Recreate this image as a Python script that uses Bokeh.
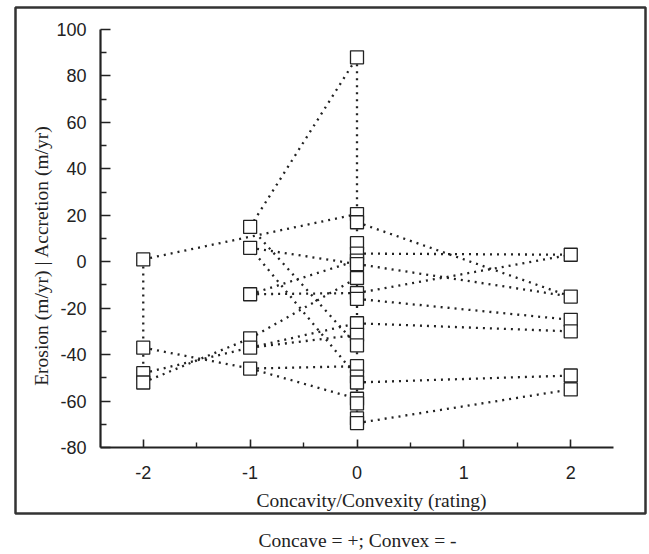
import math
from bokeh.plotting import figure
from bokeh.layouts import column
from bokeh.models import FixedTicker, Label, Range1d
from bokeh.embed import file_html
from bokeh.resources import INLINE

# ---- data: concavity/convexity rating vs. erosion(-) / accretion(+) rate (m/yr)
rating = [-2, -2, -2, -2,
          -1, -1, -1, -1, -1, -1,
          0, 0, 0, 0, 0, 0, 0, 0, 0, 0,
          0, 0, 0, 0, 0, 0, 0, 0, 0, 0,
          2, 2, 2, 2, 2, 2]
rate = [1, -37, -48, -52,
        15, 6, -14, -33, -37, -46,
        88, 20.5, 17, 8, 3.5, 0.5, -1, -7, -13.5, -16,
        -26.5, -31.5, -36, -45, -49.5, -52, -59, -61, -67.5, -69.5,
        3, -15, -25, -30, -49, -55]

# dotted connections between points (indices into the lists above)
link_from = [0, 1, 2,
             10, 11, 12, 13, 14, 15, 16, 17, 18, 19, 20, 21, 22, 23, 24, 25, 26, 27, 28,
             0, 1, 2, 3, 4, 4, 5, 5, 6, 6, 7, 8, 8, 9, 9,
             12, 14, 16, 18, 19, 20, 25, 29]
link_to = [1, 2, 3,
           11, 12, 13, 14, 15, 16, 17, 18, 19, 20, 21, 22, 23, 24, 25, 26, 27, 28, 29,
           11, 9, 8, 7, 10, 22, 16, 24, 18, 15, 17, 20, 21, 23, 26,
           31, 30, 31, 30, 32, 33, 34, 35]

x_lim = (-2.4, 2.4)
y_lim = (-80, 100)
x_ticks = [-2, -1, 0, 1, 2]
x_minor = [-1.5, -0.5, 0.5, 1.5]
y_ticks = [-80, -60, -40, -20, 0, 20, 40, 60, 80, 100]
y_minor = [-70, -50, -30, -10, 10, 30, 50, 70, 90]

x_title = "Concavity/Convexity (rating)"
y_title = "Erosion (m/yr) | Accretion (m/yr)"
caption = "Concave = +; Convex = -"

INK = "#222222"
SANS = "Liberation Sans"
SERIF = "Liberation Serif"

# ---- layout in pixels: outer box (= plot frame) and the axes drawn inside it
BOX_L, BOX_R, BOX_T, BOX_B = 15, 645, 7, 513
AX_L, AX_R, AX_T, AX_B = 100, 613, 29, 447
W, H = 648, 515
CAP_H = 37

ppx = (AX_R - AX_L) / (x_lim[1] - x_lim[0])
ppy = (AX_B - AX_T) / (y_lim[1] - y_lim[0])
x_range = Range1d(x_lim[0] - (AX_L - BOX_L) / ppx, x_lim[1] + (BOX_R - AX_R) / ppx)
y_range = Range1d(y_lim[0] - (BOX_B - AX_B) / ppy, y_lim[1] + (AX_T - BOX_T) / ppy)

p = figure(width=W, height=H, x_range=x_range, y_range=y_range,
           output_backend="svg", toolbar_location=None,
           min_border_left=BOX_L, min_border_right=W - BOX_R,
           min_border_top=BOX_T, min_border_bottom=H - BOX_B)
p.xgrid.visible = False
p.ygrid.visible = False
p.outline_line_color = "#333333"
p.outline_line_width = 2.5
p.background_fill_color = "white"
p.border_fill_color = "white"

seg_x0 = [rating[i] for i in link_from]
seg_y0 = [rate[i] for i in link_from]
seg_x1 = [rating[i] for i in link_to]
seg_y1 = [rate[i] for i in link_to]
p.segment(seg_x0, seg_y0, seg_x1, seg_y1, line_color=INK, line_width=2.3,
          line_dash="2 5")

p.scatter(rating, rate, marker="square", size=13, fill_color="white",
          line_color=INK, line_width=1.3)

p.xaxis.fixed_location = y_lim[0]
p.xaxis.bounds = x_lim
p.yaxis.fixed_location = x_lim[0]
p.yaxis.bounds = y_lim

for ax, ticks, minor in ((p.xaxis[0], x_ticks, x_minor), (p.yaxis[0], y_ticks, y_minor)):
    ax.ticker = FixedTicker(ticks=ticks, minor_ticks=minor)
    ax.major_label_overrides = {t: str(t) for t in ticks}
    ax.axis_line_color = INK
    ax.axis_line_width = 2.2
    ax.major_tick_line_color = INK
    ax.minor_tick_line_color = INK
    ax.major_tick_line_width = 1.6
    ax.minor_tick_line_width = 1.4
    ax.major_tick_out = 0
    ax.minor_tick_out = 0
    ax.major_label_text_font = SANS
    ax.major_label_text_font_size = "18px"
    ax.major_label_text_color = INK

p.xaxis.major_tick_in = 8
p.xaxis.minor_tick_in = 5
p.xaxis.major_label_standoff = 18
p.yaxis.major_tick_in = 10
p.yaxis.minor_tick_in = 6
p.yaxis.major_label_standoff = 14

# axis titles (pixels from the lower-left corner of the outer box)
p.add_layout(Label(x=371 - BOX_L, y=BOX_B - 500, x_units="screen", y_units="screen",
                   text=x_title, text_align="center", text_baseline="middle",
                   text_font=SERIF, text_font_size="19.5px", text_color=INK))
p.add_layout(Label(x=41 - BOX_L, y=BOX_B - 255, x_units="screen", y_units="screen",
                   text=y_title, angle=math.pi / 2, text_align="center",
                   text_baseline="middle", text_font=SERIF, text_font_size="19.5px",
                   text_color=INK))

# caption strip under the box
cap = figure(width=W, height=CAP_H, output_backend="svg", toolbar_location=None,
             x_axis_type=None, y_axis_type=None,
             min_border_left=0, min_border_right=0, min_border_top=0, min_border_bottom=0)
cap.outline_line_color = None
cap.xgrid.visible = False
cap.ygrid.visible = False
cap.background_fill_color = "white"
cap.border_fill_color = "white"
cap.add_layout(Label(x=342, y=(H + CAP_H) - 540, x_units="screen", y_units="screen",
                     text=caption, text_align="center", text_baseline="middle",
                     text_font=SERIF, text_font_size="19.5px", text_color=INK))

open("out.html", "w").write(file_html(column(p, cap, spacing=0), INLINE))
